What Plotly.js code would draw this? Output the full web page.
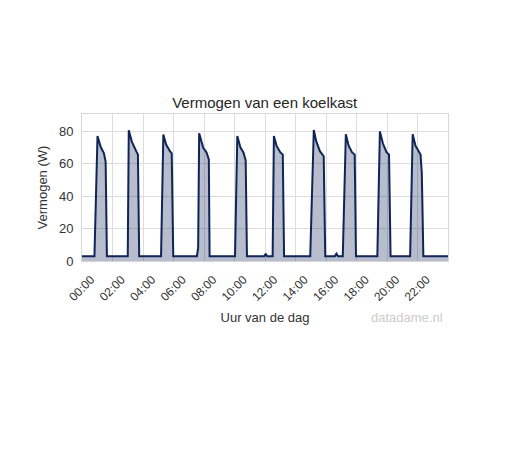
<!DOCTYPE html>
<html>
<head>
<meta charset="utf-8">
<script src="https://cdn.plot.ly/plotly-3.0.1.min.js"></script>
<style>
  html, body { margin: 0; padding: 0; background: #ffffff; }
  #chart { width: 510px; height: 451px; }
</style>
</head>
<body>
<div id="chart"></div>
<script>
// Vertices of the power curve (time of day, watts)
var times = [
  "00:00",
  "00:49", "01:01", "01:14", "01:26", "01:33", "01:38",
  "03:00", "03:04", "03:16", "03:35", "03:40", "03:45",
  "05:11", "05:20", "05:31", "05:46", "05:53", "05:59",
  "07:32", "07:37", "07:41", "07:57", "08:10", "08:19", "08:22",
  "10:02", "10:11", "10:23", "10:35", "10:44", "10:49",
  "11:57", "12:03", "12:08",
  "12:30", "12:35", "12:46", "13:00", "13:10", "13:15",
  "14:58", "15:12", "15:22", "15:36", "15:51", "15:57",
  "16:35", "16:41", "16:47",
  "17:06", "17:18", "17:29", "17:42", "17:53", "17:58",
  "19:22", "19:32", "19:44", "19:58", "20:08", "20:14",
  "21:31", "21:41", "21:52", "22:05", "22:12", "22:17", "22:23",
  "24:00"
];
var watts = [
  3,
  3, 77, 70, 66.5, 61, 3,
  3, 80.5, 73.5, 67, 65.5, 3,
  3, 77.8, 71.7, 67.6, 66.3, 3,
  3, 8, 78.6, 69.7, 66.8, 62.6, 3,
  3, 76.9, 70, 66.8, 62, 3,
  3, 4.5, 3,
  3, 77, 70.7, 67, 65.5, 3,
  3, 80.6, 73.5, 67.6, 64.5, 3,
  3, 4.5, 3,
  3, 78, 71, 67, 65.5, 3,
  3, 79.8, 72.3, 67, 65.5, 3,
  3, 78, 71, 67, 65.5, 54, 3,
  3
];
var tickHours = [0, 2, 4, 6, 8, 10, 12, 14, 16, 18, 20, 22];
var tickLabels = ["00:00", "02:00", "04:00", "06:00", "08:00", "10:00",
                  "12:00", "14:00", "16:00", "18:00", "20:00", "22:00"];

function toHours(s) {
  var p = s.split(":");
  return parseInt(p[0], 10) + parseInt(p[1], 10) / 60;
}
var hours = times.map(toHours);

var FONT = "Liberation Sans, Arial, Helvetica, sans-serif";

var trace = {
  x: hours,
  y: watts,
  type: "scatter",
  mode: "lines",
  line: { color: "#0f2557", width: 2 },
  fill: "tozeroy",
  fillcolor: "rgba(15,37,87,0.30)",
  hoverinfo: "skip"
};

var layout = {
  width: 510,
  height: 451,
  margin: { l: 82, r: 62, t: 114, b: 190, pad: 0 },
  paper_bgcolor: "#ffffff",
  plot_bgcolor: "#ffffff",
  showlegend: false,
  font: { family: FONT, size: 13, color: "#333333" },
  title: {
    text: "Vermogen van een koelkast",
    font: { family: FONT, size: 15, color: "#262626" },
    x: 0.519, xanchor: "center",
    y: 0.772, yanchor: "middle"
  },
  xaxis: {
    type: "linear",
    range: [0, 24],
    tickvals: tickHours,
    ticktext: tickLabels,
    tickangle: -45,
    ticklabelshift: 9,
    ticklabelstandoff: 6,
    showgrid: true,
    gridcolor: "#dcdcdc",
    gridwidth: 1,
    zeroline: false,
    showline: true,
    mirror: true,
    linecolor: "#d6d6d6",
    linewidth: 1,
    ticks: "",
    tickfont: { family: FONT, size: 12, color: "#333333" },
    title: { text: "Uur van de dag", font: { family: FONT, size: 13, color: "#333333" }, standoff: 9 },
    automargin: false
  },
  yaxis: {
    range: [0, 90.5],
    tickvals: [0, 20, 40, 60, 80],
    ticklabelstandoff: 5,
    showgrid: true,
    gridcolor: "#dcdcdc",
    gridwidth: 1,
    zeroline: false,
    showline: true,
    mirror: true,
    linecolor: "#d6d6d6",
    linewidth: 1,
    ticks: "",
    tickfont: { family: FONT, size: 13, color: "#333333" },
    title: { text: "Vermogen (W)", font: { family: FONT, size: 13, color: "#333333" }, standoff: 8 },
    automargin: false
  },
  annotations: [{
    text: "datadame.nl",
    xref: "paper", yref: "paper",
    x: 0.889, y: -0.381,
    xanchor: "center", yanchor: "middle",
    showarrow: false,
    font: { family: FONT, size: 13, color: "#cccccc" }
  }]
};

Plotly.newPlot("chart", [trace], layout, { displayModeBar: false, staticPlot: true });
</script>
</body>
</html>
